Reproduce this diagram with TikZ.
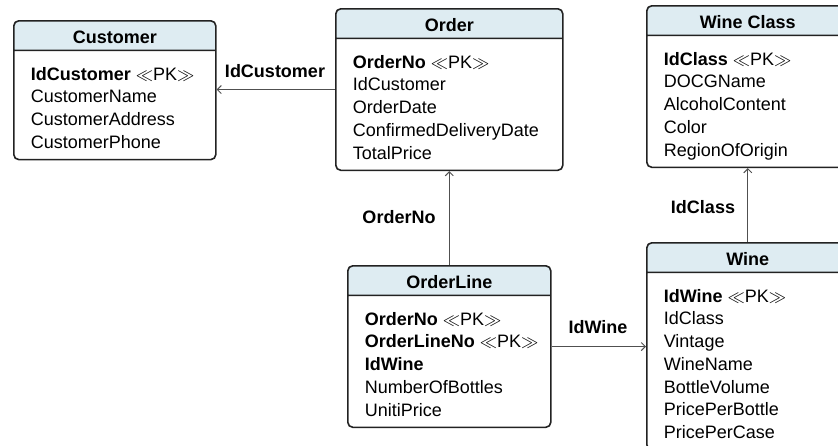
\documentclass[tikz,border=0pt]{standalone}
\usepackage{fontspec}
\setmainfont{Liberation Sans}
\usetikzlibrary{shapes.multipart,arrows.meta}

\definecolor{headblue}{RGB}{222,236,242}
\definecolor{boxline}{RGB}{34,34,34}
\definecolor{linkgray}{RGB}{80,80,80}

\newcommand{\pkmark}{$\ll$PK$\gg$}
\newcommand{\entHead}{\rule[-1pt]{0pt}{18pt}}
\newcommand{\entTop}{\rule{0pt}{24pt}}
\newcommand{\entBot}{\rule[-5.5pt]{0pt}{0pt}}

\begin{document}
\begin{tikzpicture}[
		x=1pt, y=-1pt,
		entity/.style={rectangle split, rectangle split parts=2, draw=boxline, line width=1.6pt,
			rounded corners=5pt, rectangle split part fill={headblue,white},
			rectangle split part align={center,left}, align=left,
			inner xsep=17pt, inner ysep=5pt, minimum width=#1, anchor=north west,
			font=\fontsize{18}{22.7}\selectfont},
		link/.style={draw=linkgray, line width=1pt, -{Straight Barb[length=4pt,width=8pt]}},
		linklabel/.style={font=\fontsize{18}{22}\selectfont\bfseries}
	]
	\useasboundingbox (0,0) rectangle (838,445);
	\clip (0,0) rectangle (838,445);

	% Tables
	\node[entity=202pt] (customer) at (13,20) {\entHead\textbf{Customer}
		\nodepart{two}\entTop\textbf{IdCustomer} \pkmark\\ CustomerName\\ CustomerAddress\\ CustomerPhone\entBot};
	\node[entity=227pt] (order) at (335,8) {\entHead\textbf{Order}
		\nodepart{two}\entTop\textbf{OrderNo} \pkmark\\ IdCustomer\\ OrderDate\\ ConfirmedDeliveryDate\\ TotalPrice\entBot};
	\node[entity=202pt] (wineclass) at (646,5) {\entHead\textbf{Wine Class}
		\nodepart{two}\entTop\textbf{IdClass} \pkmark\\ DOCGName\\ AlcoholContent\\ Color\\ RegionOfOrigin\entBot};
	\node[entity=203pt] (orderline) at (347,265) {\entHead\textbf{OrderLine}
		\nodepart{two}\entTop\textbf{OrderNo} \pkmark\\ \textbf{OrderLineNo} \pkmark\kern-8pt\\ \textbf{IdWine}\\ NumberOfBottles\\ UnitiPrice\entBot};
	\node[entity=202pt] (wine) at (646,242) {\entHead\textbf{Wine}
		\nodepart{two}\entTop\textbf{IdWine} \pkmark\\ IdClass\\ Vintage\\ WineName\\ BottleVolume\\ PricePerBottle\\ PricePerCase\entBot};

	% Connections
	\draw[link] (order.west) -- (order.west -| customer.east);
	\draw[link] (orderline.north) -- (orderline.north |- order.south);
	\draw[link] (orderline.east) -- (orderline.east -| wine.west);
	\draw[link] (wine.north) -- (wine.north |- wineclass.south);

	% Labels
	\node[linklabel] (lblcustomer) at (275,71) {IdCustomer};
	\node[linklabel] (lblorder) at (399,217) {OrderNo};
	\node[linklabel] (lblwine) at (598,327) {IdWine};
	\node[linklabel] (lblclass) at (703,207) {IdClass};
\end{tikzpicture}
\end{document}
